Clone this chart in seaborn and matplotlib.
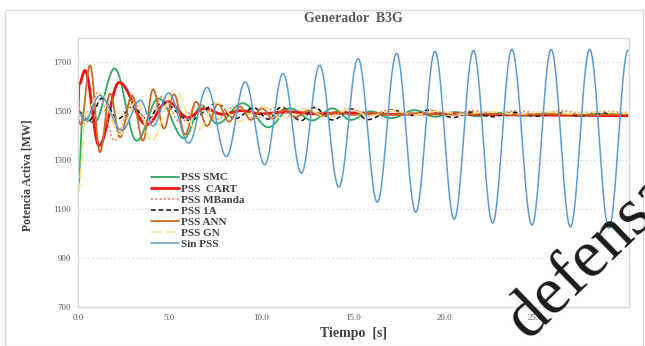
import numpy as np
import pandas as pd
import matplotlib
matplotlib.use("Agg")
import matplotlib.pyplot as plt
from matplotlib.patches import Rectangle
import seaborn as sns

# Extrema of the active-power response of generator B3G (time [s], power [MW])
t_smc = [0, 0.25, 0.9, 2.0, 3.2, 4.4, 5.8, 6.75, 7.6, 9.0, 10.4, 11.6, 12.8, 13.9, 14.9, 16.0,
         17.1, 18.4, 19.5, 20.6, 21.8, 23.0, 24.3, 25.6, 27.0, 28.5, 30.0]
p_smc = [1175, 1470, 1455, 1675, 1380, 1553, 1390, 1525, 1450, 1533, 1435, 1512, 1463, 1512, 1465, 1500,
         1472, 1505, 1478, 1497, 1480, 1494, 1482, 1491, 1483, 1489, 1485]

t_cart = [0, 0.05, 0.38, 1.15, 2.25, 3.75, 4.9, 6.0, 6.9, 7.9, 8.9, 10.0, 11.5, 13.0, 15.0, 17.0,
          20.0, 23.0, 26.0, 30.0]
p_cart = [1500, 1610, 1667, 1360, 1618, 1445, 1540, 1475, 1512, 1488, 1503, 1490, 1498, 1490, 1494, 1488,
          1490, 1486, 1485, 1482]

t_mb = [0, 0.4, 1.1, 2.0, 3.0, 3.8, 4.6, 5.6, 6.6, 7.6, 8.6, 9.7, 10.8, 11.9, 12.8, 13.8, 14.8, 15.9,
        17.0, 18.1, 19.2, 20.4, 21.6, 22.8, 24.0, 25.2, 26.4, 27.6, 28.8, 30.0]
p_mb = [1480, 1450, 1578, 1380, 1545, 1440, 1560, 1455, 1530, 1468, 1520, 1472, 1515, 1474, 1515, 1478,
        1512, 1482, 1506, 1486, 1504, 1488, 1503, 1490, 1503, 1490, 1502, 1491, 1500, 1494]

t_1a = [0, 0.6, 1.3, 2.2, 2.95, 3.8, 4.6, 6.1, 7.6, 8.6, 9.6, 10.4, 11.1, 12.2, 12.9, 13.9, 15.0, 15.8,
        17.2, 18.3, 19.1, 20.5, 21.5, 22.6, 23.8, 25.0, 26.2, 27.4, 28.6, 30.0]
p_1a = [1500, 1463, 1553, 1470, 1517, 1468, 1537, 1463, 1533, 1470, 1515, 1468, 1517, 1462, 1516, 1465,
        1510, 1466, 1505, 1483, 1505, 1475, 1497, 1478, 1496, 1480, 1494, 1481, 1493, 1484]

t_ann = [0, 0.15, 0.66, 1.2, 1.75, 2.3, 2.95, 3.55, 4.1, 4.7, 5.25, 5.85, 6.45, 7.05, 7.65, 8.25, 8.85,
         9.45, 10.05, 10.65, 11.25, 11.9, 12.6, 13.3, 14.1, 15.0, 16.0, 17.0, 18.5, 20.0, 22.0, 24.0,
         26.0, 28.0, 30.0]
p_ann = [1470, 1445, 1688, 1333, 1573, 1394, 1565, 1380, 1590, 1430, 1570, 1405, 1540, 1440, 1530, 1458,
         1520, 1465, 1512, 1470, 1508, 1478, 1502, 1482, 1498, 1485, 1495, 1486, 1492, 1487, 1491, 1486,
         1489, 1486, 1488]

t_gn = [0, 0.45, 1.2, 2.3, 3.2, 4.0, 5.3, 6.5, 7.6, 8.8, 10.0, 11.2, 12.4, 13.6, 14.8, 16.0, 17.2,
        18.4, 19.6, 21.0, 22.5, 24.0, 25.5, 27.0, 28.5, 30.0]
p_gn = [1165, 1500, 1575, 1405, 1545, 1378, 1588, 1420, 1535, 1458, 1520, 1470, 1510, 1478, 1506, 1483,
        1503, 1486, 1501, 1488, 1499, 1489, 1498, 1490, 1497, 1492]

t_sin = [0, 0.35, 1.2, 2.4, 3.4, 4.1, 4.95, 6.05, 7.05, 8.1, 9.13, 10.2, 11.2, 12.2, 13.2, 14.25, 15.3,
         16.35, 17.4, 18.45, 19.5, 20.55, 21.6, 22.65, 23.7, 24.8, 25.85, 26.9, 27.95, 29.0, 30.05]
p_sin = [1500, 1462, 1565, 1422, 1545, 1440, 1575, 1370, 1598, 1315, 1620, 1282, 1655, 1247, 1688, 1190,
         1716, 1129, 1737, 1088, 1745, 1059, 1749, 1043, 1753, 1035, 1753, 1027, 1754, 1022, 1750]

labels = ["PSS SMC", "PSS  CART", "PSS MBanda", "PSS 1A", "PSS ANN", "PSS GN", "Sin PSS"]
x_ticks = [0, 5, 10, 15, 20, 25]
x_tick_labels = ["0.0", "5.0", "10.0", "15.0", "20.0", "25.0"]
y_ticks = [700, 900, 1100, 1300, 1500, 1700]


def smooth(t, v, n=40):
    """Smoothed line through the given points (cosine easing between nodes)."""
    ts, vs = [], []
    for i in range(len(t) - 1):
        s = np.linspace(0, 1, n, endpoint=False)
        w = (1 - np.cos(np.pi * s)) / 2
        ts.append(t[i] + (t[i + 1] - t[i]) * s)
        vs.append(v[i] + (v[i + 1] - v[i]) * w)
    ts.append([t[-1]])
    vs.append([v[-1]])
    return np.concatenate(ts), np.concatenate(vs)


series = [
    (t_smc, p_smc, dict(color="#2EA862", lw=1.3, ls="-")),
    (t_cart, p_cart, dict(color="#EE1111", lw=2.0, ls="-")),
    (t_mb, p_mb, dict(color="#F0956A", lw=1.4, ls=(0, (1, 1.2)))),
    (t_1a, p_1a, dict(color="#111111", lw=1.1, ls=(0, (3, 2)))),
    (t_ann, p_ann, dict(color="#C86A22", lw=1.3, ls="-")),
    (t_gn, p_gn, dict(color="#FFE08A", lw=1.2, ls=(0, (6, 3)))),
    (t_sin, p_sin, dict(color="#5B9BD5", lw=1.1, ls="-")),
]

sns.set_theme(style="white")
plt.rcParams["font.family"] = ["Liberation Serif", "DejaVu Serif"]

fig = plt.figure(figsize=(6.45, 3.46), dpi=100)
fig.patch.set_facecolor("white")
fig.add_artist(Rectangle((5 / 645, 0.0), 638 / 645, 336 / 346, transform=fig.transFigure,
                         fill=False, edgecolor="#D9D9D9", lw=1.0))
ax = fig.add_axes([78 / 645, 39 / 346, 551 / 645, 269 / 346])

for (t, p, st), lab in zip(series, labels):
    xs, ys = smooth(t, p)
    df = pd.DataFrame({"Tiempo": xs, "Potencia": ys})
    sns.lineplot(data=df, x="Tiempo", y="Potencia", ax=ax, color=st["color"], linewidth=st["lw"],
                 linestyle=st["ls"], label=lab, sort=False, estimator=None)

ax.set_xlim(0, 30.1)
ax.set_ylim(700, 1800)
ax.set_xticks(x_ticks)
ax.set_xticklabels(x_tick_labels)
ax.set_yticks(y_ticks)
ax.set_yticklabels([str(v) for v in y_ticks])
ax.tick_params(axis="both", length=0, labelsize=6.5, labelcolor="#595959")
ax.tick_params(axis="x", pad=5)
ax.tick_params(axis="y", pad=5)
ax.grid(axis="y", color="#E3E3E3", lw=0.8, ls=(0, (2, 2)))
ax.grid(axis="x", visible=False)
for sp in ax.spines.values():
    sp.set_color("#D9D9D9")
    sp.set_linewidth(1.0)
ax.set_xlabel("")
ax.set_ylabel("")

leg = ax.legend(loc="upper left", bbox_to_anchor=(0.122, 0.52), frameon=False, borderpad=0,
                handlelength=2.5, handletextpad=0.2, labelspacing=0.12,
                prop={"family": "Liberation Serif", "weight": "bold", "size": 8})
for txt in leg.get_texts():
    txt.set_color("#404040")

fig.text(0.5 * (78 + 629) / 645, 1 - 18 / 346, "Generador  B3G", ha="center", va="center",
         fontsize=10, fontweight="bold", color="#595959")
fig.text(0.5 * (78 + 629) / 645, 1 - 334 / 346, "Tiempo  [s]", ha="center", va="center",
         fontsize=10, fontweight="bold", color="#404040")
fig.text(28 / 645, 1 - 175 / 346, "Potencia Activa [MW]", ha="center", va="center", rotation=90,
         fontsize=8.5, fontweight="bold", color="#404040")

# Watermark
fig.text(528 / 645, 1 - 341 / 346, "defensa", rotation=44, rotation_mode="anchor",
         ha="left", va="baseline", fontsize=49, color="#1A1A1A", family="Liberation Serif")

fig.savefig("out.png", dpi=100, facecolor="white")
